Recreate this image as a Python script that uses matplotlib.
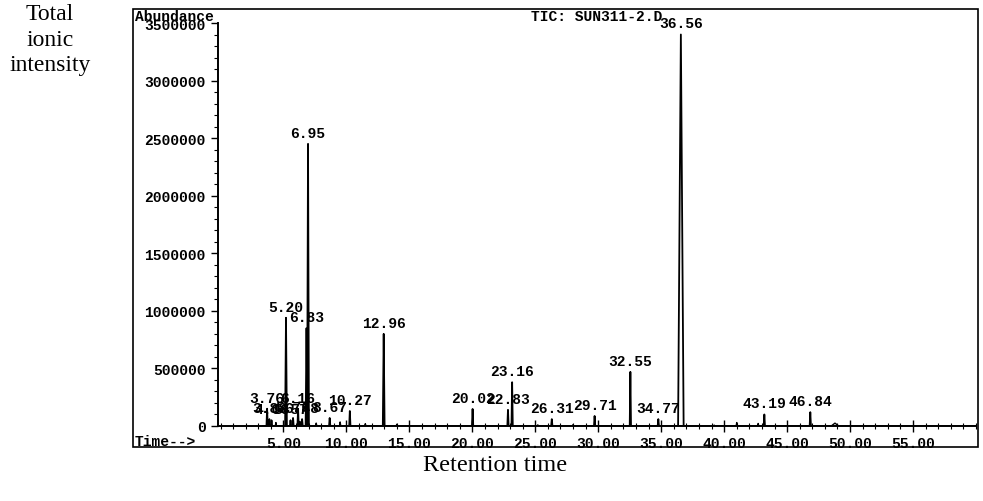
import matplotlib.pyplot as plt
from matplotlib.patches import Rectangle
from matplotlib.ticker import MultipleLocator, FixedLocator

# retention time (min) and abundance of the labelled peaks
peak_times = [3.70, 3.88, 4.05, 5.20, 5.56, 5.76, 6.16, 6.48, 6.83, 6.95,
              8.67, 10.27, 12.96, 20.02, 22.83, 23.16, 26.31, 29.71,
              32.55, 34.77, 36.56, 43.19, 46.84]
peak_heights = [150000, 60000, 50000, 940000, 50000, 70000, 150000, 60000,
                850000, 2450000, 70000, 130000, 800000, 148000, 140000,
                380000, 60000, 87000, 470000, 60000, 3400000, 100000, 120000]
peak_labels = ["3.76", "3.88", "4.06", "5.20", "5.57", "5.76", "6.16",
               "6.48", "6.83", "6.95", "8.67", "10.27", "12.96", "20.02",
               "22.83", "23.16", "26.31", "29.71", "32.55", "34.77",
               "36.56", "43.19", "46.84"]
# small unlabelled peaks
minor_times = [4.4, 6.3, 7.6, 9.5, 11.5, 14.0, 25.2, 28.0, 39.2, 41.0, 42.7, 48.8]
minor_heights = [30000, 40000, 25000, 35000, 20000, 15000, 10000, 12000,
                 8000, 30000, 22000, 25000]

y_ticks = [0, 500000, 1000000, 1500000, 2000000, 2500000, 3000000, 3500000]
x_ticks = [5, 10, 15, 20, 25, 30, 35, 40, 45, 50, 55]

mono = "Liberation Mono"
serif = "Liberation Serif"
fs = 10.5

fig = plt.figure(figsize=(9.83, 5.02), dpi=100)
W, H = 983, 502
ax = fig.add_axes([218 / W, 1 - 427 / H, (976 - 218) / W, (427 - 24) / H])

# baseline
ax.plot([3.4, 60], [4000, 4000], color="black", lw=1.4)

def width_for(h):
    if h > 3000000:
        return 0.22
    if h > 500000:
        return 0.07
    return 0.05

for t, h in zip(minor_times, minor_heights):
    w = 0.3 if t == 48.8 else 0.05
    ax.plot([t - w, t, t + w], [0, h, 0], color="black", lw=1.0)

for t, h in zip(peak_times, peak_heights):
    w = width_for(h)
    ax.plot([t - w, t, t + w], [0, h, 0], color="black", lw=1.3)

for t, h, lab in zip(peak_times, peak_heights, peak_labels):
    ax.text(t, h + 35000, lab, ha="center", va="bottom", fontsize=fs,
            family=mono, fontweight="bold", clip_on=False)

ax.set_xlim(-0.2, 60)
ax.set_ylim(0, 3500000)
ax.spines["top"].set_visible(False)
ax.spines["right"].set_visible(False)
ax.spines["left"].set_linewidth(1.4)
ax.spines["bottom"].set_linewidth(1.4)

ax.yaxis.set_major_locator(FixedLocator(y_ticks))
ax.yaxis.set_minor_locator(MultipleLocator(100000))
ax.set_yticklabels([str(v) for v in y_ticks], family=mono, fontweight="bold", fontsize=fs)
ax.xaxis.set_major_locator(FixedLocator(x_ticks))
ax.xaxis.set_minor_locator(MultipleLocator(1))
ax.set_xticklabels(["%.2f" % v for v in x_ticks], family=mono, fontweight="bold", fontsize=fs)
ax.tick_params(axis="y", which="major", direction="out", length=5, width=1.0, pad=4)
ax.tick_params(axis="y", which="minor", direction="out", length=3, width=0.8)
ax.tick_params(axis="x", which="major", direction="inout", length=8, width=1.0, pad=3)
ax.tick_params(axis="x", which="minor", direction="inout", length=4, width=0.8)

# outer frame of the printout
fig.patches.append(Rectangle((133 / W, 1 - 448 / H), (978 - 133) / W, (448 - 10) / H,
                             transform=fig.transFigure, fill=False, lw=1.2, color="black"))
fig.text(135 / W, 1 - 17 / H, "Abundance", ha="left", va="center", fontsize=fs,
         family=mono, fontweight="bold")
fig.text(531 / W, 1 - 17 / H, "TIC: SUN311-2.D", ha="left", va="center", fontsize=fs,
         family=mono, fontweight="bold")
fig.text(135 / W, 1 - 442 / H, "Time-->", ha="left", va="center", fontsize=fs,
         family=mono, fontweight="bold")

fig.text(50 / W, 1 - 40 / H, "Total\nionic\nintensity", ha="center", va="center",
         fontsize=17, family=serif, linespacing=1.25)
fig.text(495 / W, 1 - 466 / H, "Retention time", ha="center", va="center",
         fontsize=17.5, family=serif)

fig.savefig("out.png", dpi=100)
